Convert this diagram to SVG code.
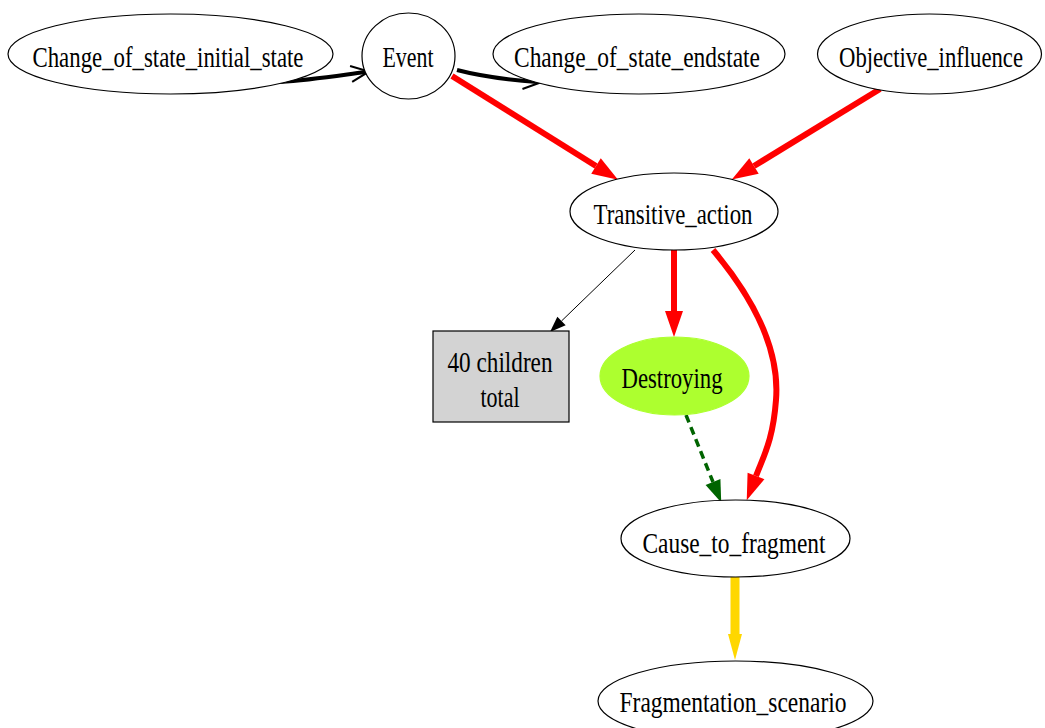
<svg xmlns="http://www.w3.org/2000/svg" width="1045" height="728" viewBox="0 0 1045 728">
<style>
  .node ellipse, .node rect { stroke: #000; stroke-width: 1.2; }
  .plain { fill: #fff; }
  text { font-family: "Liberation Serif", "Times New Roman", serif; font-size: 23px; fill: #000; text-anchor: middle; }
  .e { fill: none; }
  .blk { stroke: #000; stroke-width: 4; }
  .thin { stroke: #000; stroke-width: 1; }
  .red { stroke: #ff0000; stroke-width: 6; }
  .grn { stroke: #006400; stroke-width: 3.5; stroke-dasharray: 8 5; }
  .gold { stroke: #ffd700; stroke-width: 9; }
</style>
<defs>
  <marker id="vee" markerUnits="userSpaceOnUse" markerWidth="20" markerHeight="20" refX="15" refY="9" orient="auto" overflow="visible">
    <path d="M1,1 L19,9 L1,17" fill="none" stroke="#000" stroke-width="2"/>
  </marker>
  <marker id="ar" markerUnits="userSpaceOnUse" markerWidth="26" markerHeight="18" refX="0" refY="9" orient="auto" overflow="visible">
    <path d="M0,0 L26,9 L0,18 z" fill="#ff0000"/>
  </marker>
  <marker id="ab" markerUnits="userSpaceOnUse" markerWidth="16" markerHeight="12" refX="0" refY="6" orient="auto" overflow="visible">
    <path d="M0,0 L16,6 L0,12 z" fill="#000"/>
  </marker>
  <marker id="ag" markerUnits="userSpaceOnUse" markerWidth="22" markerHeight="16" refX="0" refY="8" orient="auto" overflow="visible">
    <path d="M0,0 L22,8 L0,16 z" fill="#006400"/>
  </marker>
  <marker id="ay" markerUnits="userSpaceOnUse" markerWidth="26" markerHeight="14" refX="0" refY="7" orient="auto" overflow="visible">
    <path d="M0,0 L26,7 L0,14 z" fill="#ffd700"/>
  </marker>
</defs>

<g id="connectors">
  <path class="e blk" d="M280,82 C310,80 335,76 365,72" marker-end="url(#vee)"/>
  <path class="e blk" d="M457,70 C480,76 510,80 537,82" marker-end="url(#vee)"/>
  <path class="e red" d="M452,76 L596,166" marker-end="url(#ar)"/>
  <path class="e red" d="M880,89 L754,166" marker-end="url(#ar)"/>
  <path class="e thin" d="M635,250 L561.5,321" marker-end="url(#ab)"/>
  <path class="e red" d="M674,250 L674,311" marker-end="url(#ar)"/>
  <path class="e red" d="M713,250 C755,300 780,350 776,400 C773,440 764,455 756,476" marker-end="url(#ar)"/>
  <path class="e grn" d="M686,415 L713,482" marker-end="url(#ag)"/>
  <path class="e gold" d="M735,577 L735,634" marker-end="url(#ay)"/>
</g>

<g id="node-initial" class="node">
  <ellipse class="plain" cx="170.5" cy="54" rx="162.5" ry="40"/>
  <text transform="translate(168,67) scale(1,1.3)" textLength="271" lengthAdjust="spacingAndGlyphs">Change_of_state_initial_state</text>
</g>
<g id="node-event" class="node">
  <ellipse class="plain" cx="408.5" cy="56" rx="46.5" ry="43"/>
  <text transform="translate(408,67) scale(1,1.3)" textLength="51" lengthAdjust="spacingAndGlyphs">Event</text>
</g>
<g id="node-endstate" class="node">
  <ellipse class="plain" cx="639" cy="54" rx="146" ry="40"/>
  <text transform="translate(637,67) scale(1,1.3)" textLength="246" lengthAdjust="spacingAndGlyphs">Change_of_state_endstate</text>
</g>
<g id="node-objective" class="node">
  <ellipse class="plain" cx="929.5" cy="54" rx="112" ry="40"/>
  <text transform="translate(931,67) scale(1,1.3)" textLength="184" lengthAdjust="spacingAndGlyphs">Objective_influence</text>
</g>
<g id="node-transitive" class="node">
  <ellipse class="plain" cx="674" cy="211.5" rx="104" ry="38.5"/>
  <text transform="translate(673,224) scale(1,1.3)" textLength="159" lengthAdjust="spacingAndGlyphs">Transitive_action</text>
</g>
<g id="node-children" class="node">
  <rect x="433" y="331" width="136" height="91" fill="#d3d3d3"/>
  <text transform="translate(500,372) scale(1,1.3)" textLength="105" lengthAdjust="spacingAndGlyphs">40 children</text>
  <text transform="translate(500,407) scale(1,1.3)" textLength="39" lengthAdjust="spacingAndGlyphs">total</text>
</g>
<g id="node-destroying" class="node">
  <ellipse cx="674.5" cy="376" rx="74.5" ry="39" fill="#adff2f" style="stroke:#adff2f"/>
  <text transform="translate(672,388) scale(1,1.3)" textLength="101" lengthAdjust="spacingAndGlyphs">Destroying</text>
</g>
<g id="node-cause" class="node">
  <ellipse class="plain" cx="735.5" cy="538.5" rx="114.5" ry="38.5"/>
  <text transform="translate(734,553) scale(1,1.3)" textLength="183" lengthAdjust="spacingAndGlyphs">Cause_to_fragment</text>
</g>
<g id="node-fragmentation" class="node">
  <ellipse class="plain" cx="735.5" cy="701" rx="137.5" ry="40"/>
  <text transform="translate(733,712) scale(1,1.3)" textLength="227" lengthAdjust="spacingAndGlyphs">Fragmentation_scenario</text>
</g>
</svg>
